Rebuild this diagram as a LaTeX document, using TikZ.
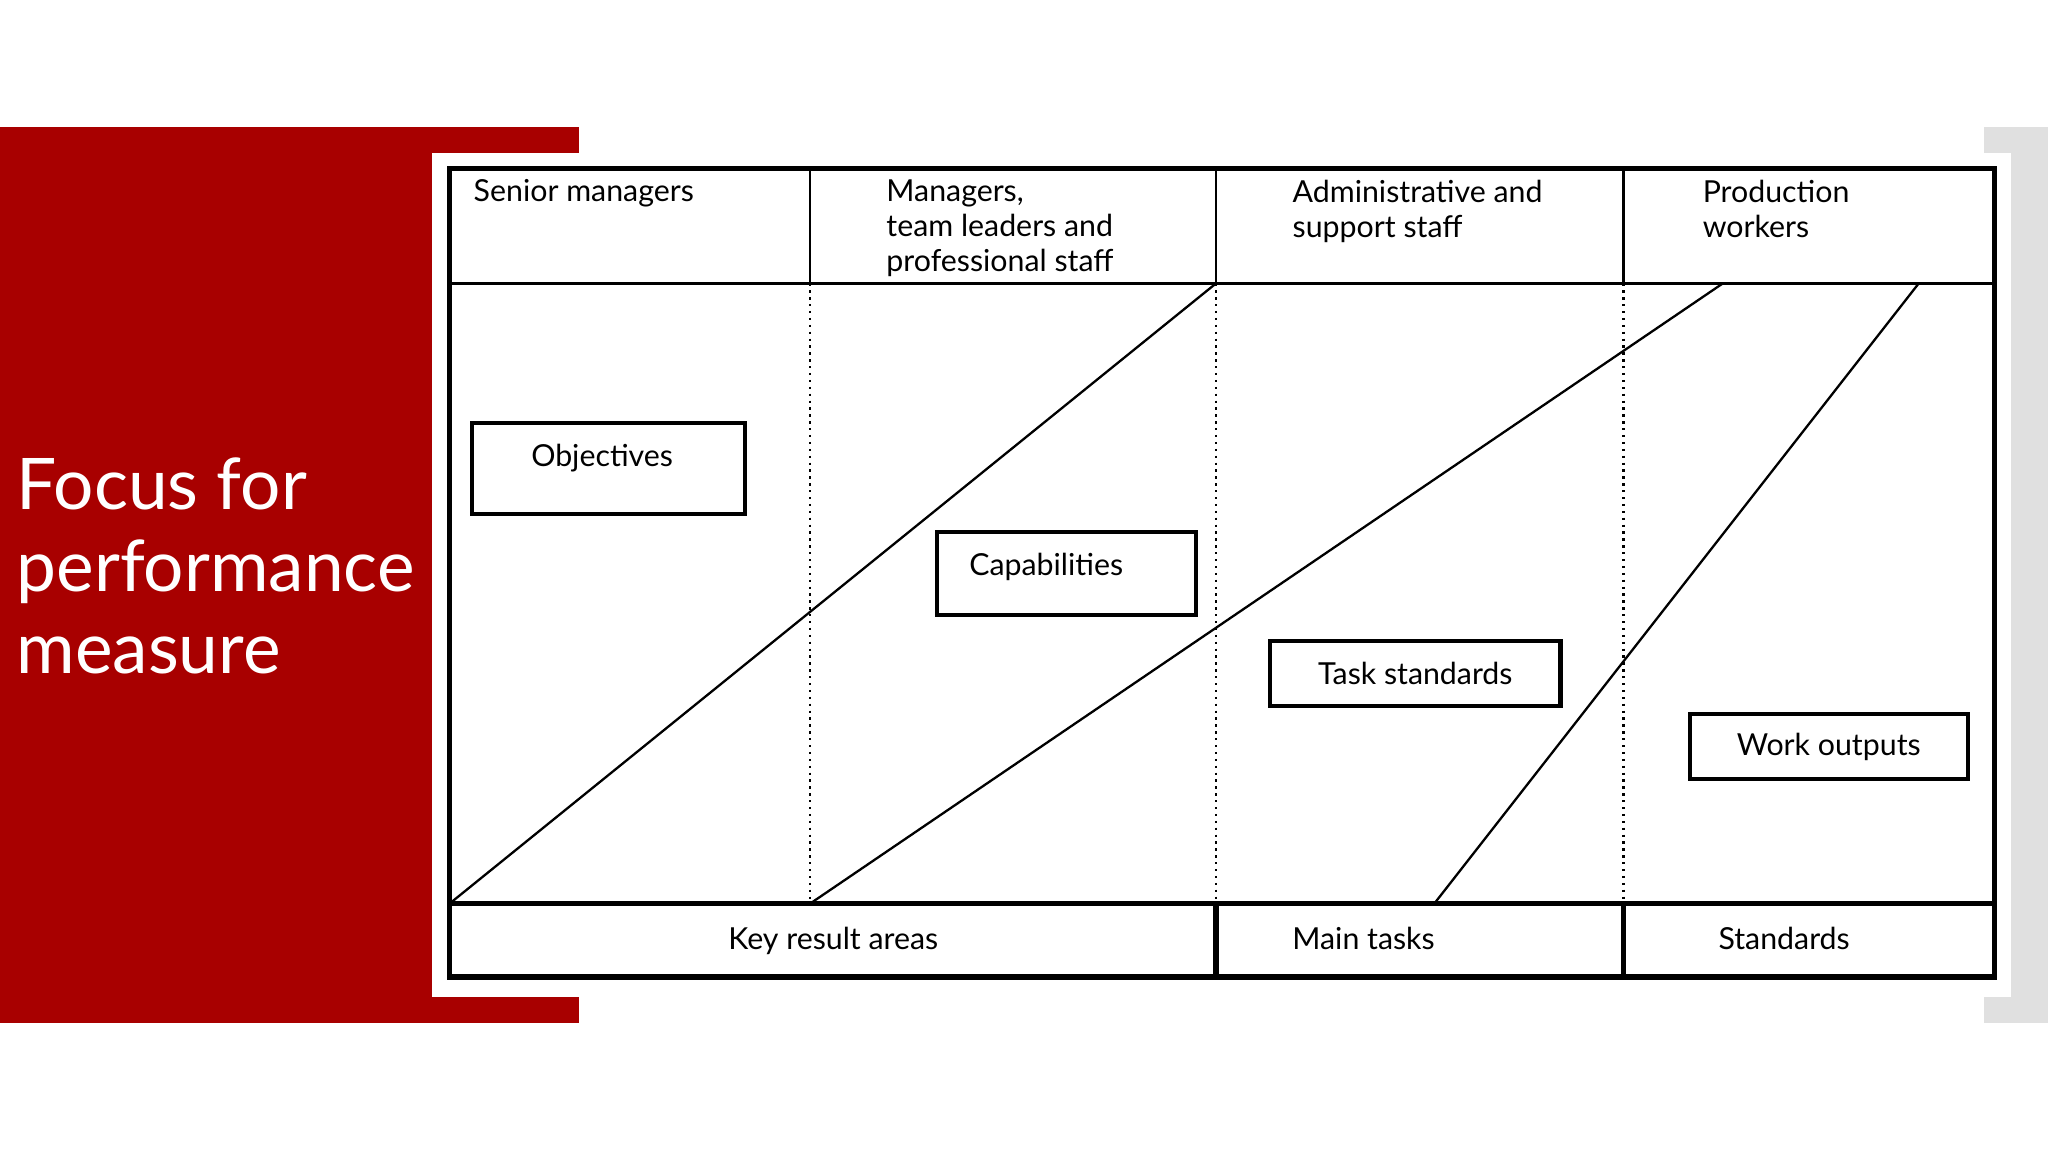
\documentclass[tikz,border=0pt]{standalone}
\usepackage{fontspec}
\setmainfont{Lato}
\begin{document}
\begin{tikzpicture}[x=0.01cm,y=-0.01cm,
  thk/.style={line width=1.1pt},
  thn/.style={line width=0.5pt},
  dot/.style={line width=0.5pt,densely dotted},
  lbl/.style={font=\fontsize{6.6}{7.6}\selectfont,inner sep=0pt,align=left},
  boxn/.style={draw,line width=0.9pt,fill=white,font=\fontsize{6.6}{7.6}\selectfont,inner sep=0pt}]
\useasboundingbox (0,0) rectangle (1568,882);
\fill[white] (0,0) rectangle (1568,882);
\fill[black!12] (1519,97) rectangle (1568,783);
\fill[red!66!black] (0,97) rectangle (443,783);
\fill[white] (331,117) rectangle (1540,763);
\node[anchor=north west,text=white,font=\fontsize{15.5}{17.8}\selectfont,align=left,inner sep=0pt] (title) at (12,350) {Focus for\\performance\\measure};
% table
\coordinate (hl) at (344,217); \coordinate (hr) at (1527,217);
\coordinate (bl) at (344,692); \coordinate (br) at (1527,692);
\draw[thn] (hl) -- (hr);
\draw[thk] (bl) -- (br);
\draw[thn] (620,129) -- (620,217);
\draw[dot] (620,217) -- (620,692);
\foreach \x in {931,1243}{
  \draw[thn] (\x,129) -- (\x,217);
  \draw[dot] (\x,217) -- (\x,692);
  \draw[thk] (\x,692) -- (\x,748);}
\draw[thn] (344,692) -- (931,217);
\draw[thn] (620,692) -- (1319,217);
\draw[thn] (1098,692) -- (1469,217);
\draw[thk] (344,129) rectangle (1527,748);
% headers
\node[lbl,anchor=north west] (h1) at (362,137) {Senior managers};
\node[lbl,anchor=north west] (h2) at (678,137) {Managers,\\team leaders and\\professional staff};
\node[lbl,anchor=north west] (h3) at (989,137) {Administrative and\\support staff};
\node[lbl,anchor=north west] (h4) at (1303,137) {Production\\workers};
% boxes
\node[boxn,anchor=north west,minimum width=2.09cm,minimum height=0.70cm] (obj) at (360,322) {};
\node[lbl] (objt) at (461,351) {Objectives};
\node[boxn,anchor=north west,minimum width=1.98cm,minimum height=0.63cm] (cap) at (716,406) {};
\node[lbl] (capt) at (801,434) {Capabilities};
\node[boxn,anchor=north west,minimum width=2.22cm,minimum height=0.50cm] (task) at (971,489) {Task standards};
\node[boxn,anchor=north west,minimum width=2.13cm,minimum height=0.50cm] (work) at (1292,545) {Work outputs};
% bottom
\node[lbl,anchor=base] (k) at (638,727) {Key result areas};
\node[lbl,anchor=base] (m) at (1044,727) {Main tasks};
\node[lbl,anchor=base] (s) at (1366,727) {Standards};
\end{tikzpicture}
\end{document}
